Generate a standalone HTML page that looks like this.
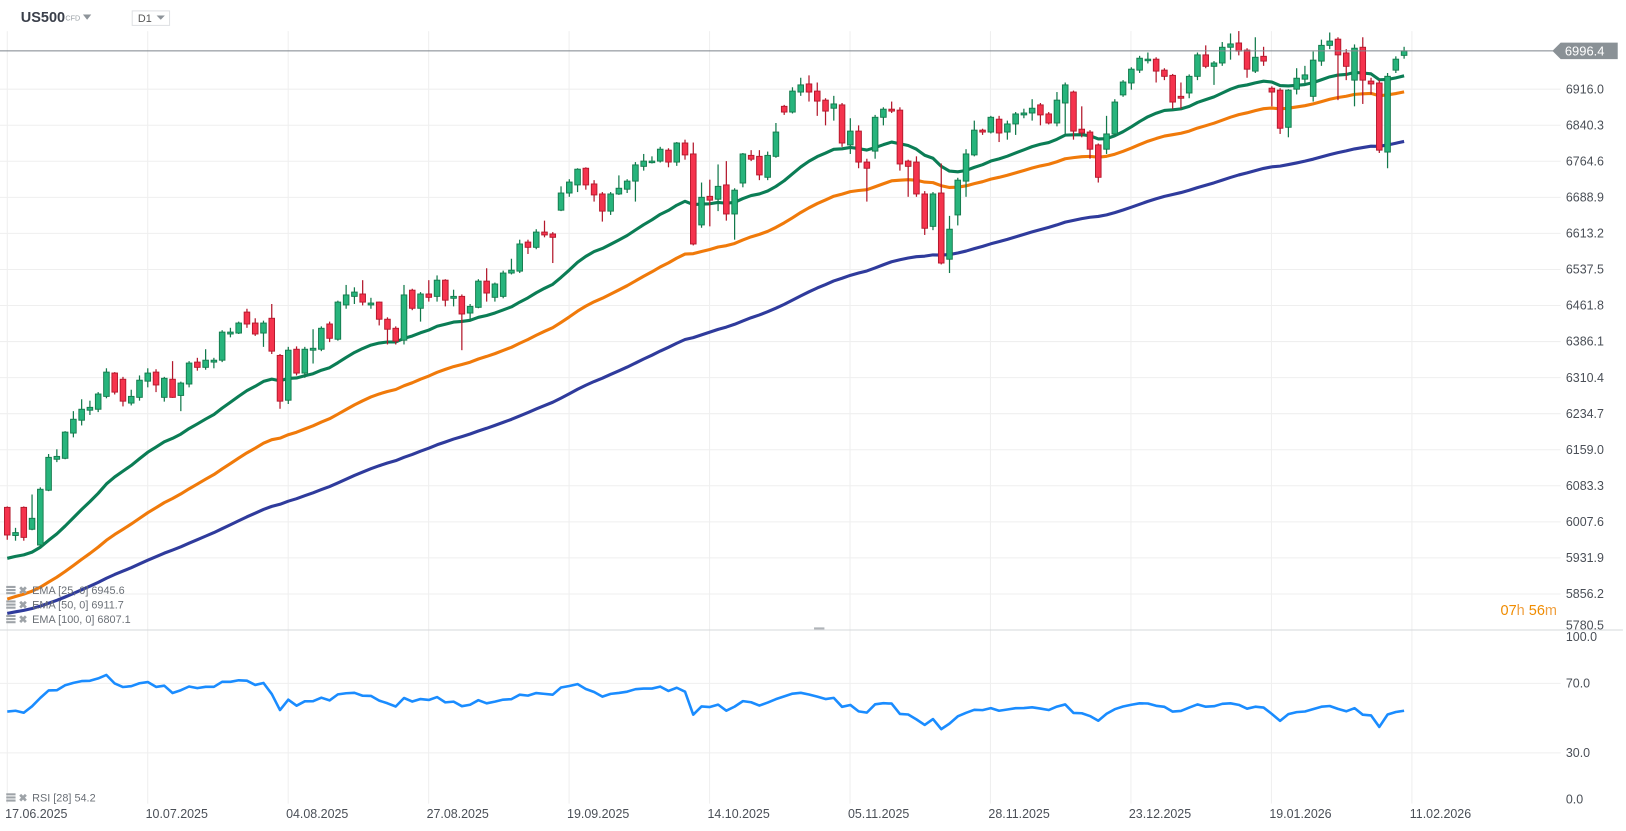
<!DOCTYPE html>
<html><head><meta charset="utf-8"><style>
body{margin:0;background:#fff;font-family:"Liberation Sans",sans-serif;}
#wrap{position:relative;width:1626px;height:831px;overflow:hidden;background:#fff}
svg text{font-family:"Liberation Sans",sans-serif}
</style></head><body>
<div id="wrap">
<svg id="chart" width="1626" height="831">
<g id="root" transform="scale(1.037)">
<g id="grid"></g>
<g id="emaLines"></g>
<g id="candles"></g>
<g id="rsiG"></g>
<g id="axes"></g>
<text x="20" y="21" font-size="14" font-weight="bold" fill="#3a3f4a">US500</text>
<text x="63" y="20" font-size="7" fill="#9aa0a6">CFD</text>
<path d="M80 14 L88 14 L84 19 Z" fill="#8e949a"/>
<rect x="127.5" y="10.5" width="36" height="14" fill="#fff" stroke="#dfe1e4"/>
<text x="133" y="21" font-size="10.5" fill="#555">D1</text>
<path d="M151 15 L159 15 L155 19 Z" fill="#8e949a"/>
<text x="1447" y="593" font-size="14"><tspan fill="#f08c00">07</tspan><tspan fill="#f0a040">h </tspan><tspan fill="#f08c00">56</tspan><tspan fill="#f0a040">m</tspan></text>
</g>
</svg>
</div>
<script>
const opens=[6038,5979,6038,5992,5959,6074,6139,6141,6194,6221,6242,6244,6271,6320,6307,6257,6269,6303,6322,6269,6307,6273,6297,6343,6332,6343,6347,6402,6404,6448,6425,6404,6435,6357,6263,6370,6320,6368,6370,6423,6391,6463,6481,6486,6463,6469,6433,6414,6389,6494,6456,6486,6481,6515,6477,6481,6446,6458,6513,6479,6481,6530,6534,6595,6584,6616,6612,6662,6698,6715,6750,6717,6696,6660,6696,6706,6723,6754,6763,6765,6788,6763,6803,6780,6631,6691,6685,6715,6654,6719,6777,6775,6731,6775,6880,6868,6910,6927,6912,6893,6876,6883,6799,6828,6763,6786,6857,6874,6872,6765,6763,6696,6628,6698,6559,6652,6723,6778,6830,6826,6853,6826,6843,6862,6866,6883,6864,6845,6887,6910,6832,6826,6799,6790,6822,6904,6929,6956,6977,6979,6956,6945,6901,6908,6943,6988,6964,6971,7004,7013,6998,6954,6985,6918,6914,6836,6916,6937,6901,6975,7008,7021,6992,6935,7004,6933,6929,6784,6956,6987];
const closes=[5980,5985,5975,6015,6076,6143,6145,6196,6223,6244,6248,6276,6322,6280,6261,6271,6305,6320,6295,6309,6269,6299,6341,6332,6347,6347,6406,6406,6425,6423,6402,6425,6366,6261,6368,6320,6370,6372,6414,6393,6469,6484,6490,6469,6467,6433,6412,6387,6484,6456,6486,6479,6515,6473,6481,6444,6460,6513,6488,6507,6530,6536,6591,6584,6616,6610,6605,6698,6721,6748,6715,6694,6660,6696,6708,6723,6757,6765,6765,6790,6763,6803,6778,6591,6689,6683,6712,6654,6704,6780,6769,6736,6777,6826,6868,6912,6925,6910,6891,6870,6885,6803,6828,6763,6750,6857,6874,6870,6759,6754,6696,6624,6696,6551,6622,6725,6780,6830,6826,6857,6824,6843,6864,6866,6876,6862,6845,6893,6925,6828,6824,6790,6731,6822,6889,6931,6958,6981,6979,6954,6943,6889,6897,6943,6988,6964,6971,7004,7011,6996,6958,6983,6975,6910,6834,6914,6939,6946,6977,7008,7017,6988,6964,7002,6935,6927,6788,6943,6979,6996.4];
const highs=[6040,5995,6040,6065,6080,6150,6160,6198,6240,6265,6262,6280,6330,6322,6312,6285,6315,6330,6328,6312,6345,6302,6345,6352,6370,6352,6410,6415,6428,6455,6435,6430,6465,6360,6375,6376,6375,6412,6418,6428,6472,6505,6500,6515,6478,6470,6437,6418,6505,6497,6490,6515,6525,6517,6495,6485,6465,6517,6540,6510,6535,6560,6600,6600,6622,6640,6616,6712,6727,6750,6752,6725,6700,6700,6735,6727,6763,6780,6775,6795,6792,6805,6810,6804,6720,6726,6758,6765,6708,6782,6788,6788,6785,6845,6883,6920,6940,6945,6930,6897,6902,6887,6855,6840,6770,6862,6878,6890,6878,6768,6775,6702,6700,6760,6650,6730,6790,6850,6833,6860,6860,6850,6868,6875,6895,6887,6868,6910,6930,6913,6880,6830,6802,6860,6895,6935,6962,6986,6993,6983,6960,6948,6930,6947,6993,7008,6975,7015,7033,7038,7002,7025,7005,6922,6918,6916,6960,6965,6995,7020,7035,7025,7000,7010,7025,6940,6935,6950,6985,7005];
const lows=[5970,5968,5968,5990,5955,6072,6133,6139,6185,6210,6232,6238,6267,6275,6250,6252,6262,6290,6280,6260,6268,6240,6290,6325,6327,6330,6343,6395,6402,6415,6398,6375,6360,6245,6255,6315,6310,6340,6366,6385,6388,6455,6465,6462,6455,6420,6380,6380,6380,6452,6428,6470,6470,6460,6460,6368,6432,6456,6470,6470,6477,6527,6530,6570,6580,6605,6551,6660,6690,6700,6705,6680,6638,6652,6694,6698,6680,6745,6760,6762,6752,6755,6768,6588,6625,6628,6660,6640,6600,6710,6765,6725,6725,6772,6862,6865,6902,6890,6860,6840,6850,6795,6780,6750,6680,6770,6840,6866,6745,6690,6690,6610,6620,6548,6530,6630,6690,6775,6820,6823,6805,6810,6820,6855,6850,6840,6842,6838,6820,6810,6815,6770,6720,6780,6818,6900,6915,6950,6970,6930,6935,6875,6875,6897,6935,6960,6925,6965,6978,6987,6940,6950,6965,6880,6822,6815,6905,6927,6890,6965,7000,6893,6935,6880,6885,6905,6782,6750,6950,6980];
const emaPeriods=[25,50,100];
const emaSeeds=[5927,5840,5812];
const emaColors=['#0b7d55','#f07a0a','#2f3b9c'];
const emaLastValues=['6945.6','6911.7','6807.1'];
const priceTicks=['6916.0','6840.3','6764.6','6688.9','6613.2','6537.5','6461.8','6386.1','6310.4','6234.7','6159.0','6083.3','6007.6','5931.9','5856.2','5780.5'];
const dateLabels=['17.06.2025','10.07.2025','04.08.2025','27.08.2025','19.09.2025','14.10.2025','05.11.2025','28.11.2025','23.12.2025','19.01.2026','11.02.2026'];
const rsiTicks=['100.0','70.0','30.0','0.0'];
const rsiTickVals=[100,70,30,0];
const rsiPeriod=28;
const rsiSeedGain=10, rsiSeedLoss=8.6;
const lastPrice=6996.4;

const NS='http://www.w3.org/2000/svg';
function mk(tag,attrs,parent){const e=document.createElementNS(NS,tag);for(const k in attrs)e.setAttribute(k,attrs[k]);parent.appendChild(e);return e;}
const N=closes.length;
const x0=7, x1=1354;
const xStep=(x1-x0)/(N-1);
function xs(i){return x0+i*xStep;}
function yp(p){return 86+(6916-p)*0.4593;}
function yr(v){return 659+(70-v)*1.675;}
const grid=document.getElementById('grid');
const axes=document.getElementById('axes');
priceTicks.forEach((t)=>{const v=parseFloat(t);const y=yp(v);
 const l=mk('line',{x1:0,x2:1505,y1:y,y2:y,stroke:'#efefef','stroke-width':1},grid);
 
 const tx=mk('text',{x:1510,y:Math.min(y+4,607),'font-size':12,fill:'#4a4f57'},axes);tx.textContent=t;
 
});
dateLabels.forEach((d,k)=>{const x=7+k*135.45;
 const l=mk('line',{x1:x,x2:x,y1:30,y2:775,stroke:'#efefef','stroke-width':1},grid);
 
 const tx=mk('text',{x:x-2,y:789,'font-size':12,fill:'#4a4f57'},axes);tx.textContent=d;
 
});
rsiTicks.forEach((t,k)=>{const v=rsiTickVals[k];let y=yr(v);
 if(v===70||v===30){const l=mk('line',{x1:0,x2:1505,y1:y,y2:y,stroke:'#efefef'},grid);
 }
 y=Math.max(618,Math.min(775,y+4));
 const tx=mk('text',{x:1510,y:y,'font-size':12,fill:'#4a4f57'},axes);tx.textContent=t;
 
});
const sep=mk('line',{x1:0,x2:1565,y1:607.5,y2:607.5,stroke:'#d6d8db'},axes);

const hnd=mk('rect',{x:785,y:605,width:10,height:2,fill:'#b0b4b8'},axes);

const emaG=document.getElementById('emaLines');
emaPeriods.forEach((p,k)=>{const a=2/(p+1);let e=emaSeeds[k];const pts=[];
 for(let i=0;i<N;i++){e=e+a*(closes[i]-e);pts.push(xs(i).toFixed(1)+','+yp(e).toFixed(1));}
 const pl=mk('polyline',{points:pts.join(' '),fill:'none',stroke:emaColors[k],'stroke-width':3,'stroke-linejoin':'round'},emaG);
 
});
const cg=document.getElementById('candles');
for(let i=0;i<N;i++){const up=closes[i]>=opens[i];const x=xs(i);
 const fill=up?'#27b47c':'#f5334d', st=up?'#137a4c':'#b3182c';
 const w=mk('line',{x1:x,x2:x,y1:yp(highs[i]),y2:yp(lows[i]),stroke:st,'stroke-width':1.2},cg);
 
 const top=yp(Math.max(opens[i],closes[i])),bot=yp(Math.min(opens[i],closes[i]));
 const r=mk('rect',{x:x-2.7,y:top,width:5.4,height:Math.max(1.5,bot-top),fill:fill,stroke:st,'stroke-width':0.9},cg);
 
}
const ly=yp(lastPrice);
const lp=mk('line',{x1:0,x2:1500,y1:ly,y2:ly,stroke:'#7d858c','stroke-width':1},axes);

const tag=mk('path',{d:`M1497 ${ly} L1505 ${ly-8} L1560 ${ly-8} L1560 ${ly+8} L1505 ${ly+8} Z`,fill:'#8a9196'},axes);

const tt=mk('text',{x:1509,y:ly+4.5,'font-size':12.5,fill:'#fff'},axes);tt.textContent=lastPrice.toFixed(1);

const rg=document.getElementById('rsiG');
let ag=rsiSeedGain,al=rsiSeedLoss;const rp=[];let lastR=50;
for(let i=0;i<N;i++){const ch=i>0?closes[i]-closes[i-1]:0;const g=Math.max(ch,0),l=Math.max(-ch,0);
 ag=(ag*(rsiPeriod-1)+g)/rsiPeriod;al=(al*(rsiPeriod-1)+l)/rsiPeriod;
 lastR=100-100/(1+ag/al);rp.push(xs(i).toFixed(1)+','+yr(lastR).toFixed(1));}
const rl=mk('polyline',{points:rp.join(' '),fill:'none',stroke:'#1a8cff','stroke-width':2.5,'stroke-linejoin':'round'},rg);

function legend(y,label,name){
 const ic=mk('g',{},axes);
 mk('rect',{x:6,y:y-8,width:9,height:2,fill:'#9ea3a8'},ic);mk('rect',{x:6,y:y-5,width:9,height:2,fill:'#9ea3a8'},ic);mk('rect',{x:6,y:y-2,width:9,height:2,fill:'#9ea3a8'},ic);
 const xx=mk('text',{x:18,y:y,'font-size':10,fill:'#9ea3a8','font-weight':'bold'},ic);xx.textContent='✖';
 const t=mk('text',{x:31,y:y,'font-size':10.5,fill:'#6b7077'},axes);t.textContent=label;
 
}
emaPeriods.forEach((p,k)=>legend(573+k*14,'EMA  ['+p+',  0]  '+emaLastValues[k],'ema-'+p+'-legend'));
legend(773,'RSI  ['+rsiPeriod+']  54.2','rsi-legend');
</script>
</body></html>
